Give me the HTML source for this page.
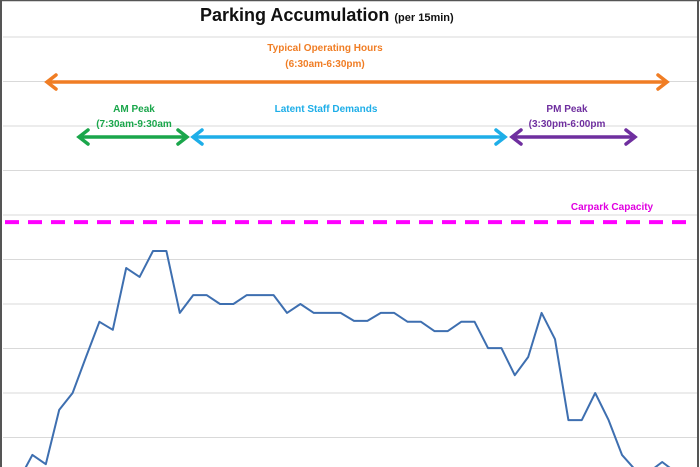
<!DOCTYPE html>
<html><head><meta charset="utf-8"><style>
body{margin:0;background:#fff;}
svg{display:block;font-family:"Liberation Sans",sans-serif;}
</style></head><body>
<svg width="700" height="467" viewBox="0 0 700 467">
<rect x="0" y="0" width="700" height="467" fill="#fff"/>
<g id="grid"></g>
<line x1="1" y1="0" x2="1" y2="467" stroke="#555" stroke-width="2"/>
<line x1="698" y1="0" x2="698" y2="467" stroke="#555" stroke-width="2"/>
<line x1="0" y1="0.5" x2="700" y2="0.5" stroke="#555" stroke-width="1.5"/>
<text x="200" y="21" font-size="18" font-weight="bold" fill="#111">Parking Accumulation <tspan font-size="11">(per 15min)</tspan></text>
<g id="annot"></g>
<line id="cap" x1="5" x2="695" stroke="#ff00ff" stroke-width="4" stroke-dasharray="14,9"/>
<text x="612" y="210" font-size="10" font-weight="bold" fill="#e000e0" text-anchor="middle">Carpark Capacity</text>
<path id="series" fill="none" stroke="#3e6fb0" stroke-width="2" stroke-linejoin="round"/>
</svg>
<script>
const values=[0.5,6.1,4,16.2,20,28.1,36,34.2,48.1,46.1,51.9,51.9,38,42,42,40,40,42,42,42,38,40,38,38,38,36.2,36.2,38,38,36,36,33.9,33.9,36,36,30.1,30.1,24,28.1,38,32.1,13.9,13.9,20,13.9,6.1,2.7,2.2,4.5,2.2];
const capacity=[58.4];
const gridValues=[10,20,30,40,50,60,70,80,90,100];
const x0=19,step=13.4;
function xs(i){return x0+step*i;}
function ys(v){return 482-v*4.45;}
const ns="http://www.w3.org/2000/svg";
const grid=document.getElementById('grid');
gridValues.forEach(g=>{const y=ys(g);const l=document.createElementNS(ns,'line');
l.setAttribute('x1',3);l.setAttribute('x2',697);l.setAttribute('y1',y);l.setAttribute('y2',y);
l.setAttribute('stroke','#d9d9d9');l.setAttribute('stroke-width','1');


grid.appendChild(l);});
const cap=document.getElementById('cap');cap.setAttribute('y1',ys(capacity[0]));cap.setAttribute('y2',ys(capacity[0]));
document.getElementById('series').setAttribute('d',values.map((v,i)=>(i?'L':'M')+xs(i).toFixed(1)+','+ys(v).toFixed(1)).join(' '));
const annot=document.getElementById('annot');
function arrow(x1,x2,y,c,name){const g=document.createElementNS(ns,'g');


g.innerHTML=`<line x1="${x1+2}" x2="${x2-2}" y1="${y}" y2="${y}" stroke="${c}" stroke-width="3.5"/>
<polyline points="${x1+10},${y-7} ${x1+1},${y} ${x1+10},${y+7}" fill="none" stroke="${c}" stroke-width="3.5" stroke-linecap="round"/>
<polyline points="${x2-10},${y-7} ${x2-1},${y} ${x2-10},${y+7}" fill="none" stroke="${c}" stroke-width="3.5" stroke-linecap="round"/>`;
annot.appendChild(g);}
function label(x,y,t,c,name){const e=document.createElementNS(ns,'text');
e.setAttribute('x',x);e.setAttribute('y',y);e.setAttribute('font-size','10');e.setAttribute('font-weight','bold');
e.setAttribute('fill',c);e.setAttribute('text-anchor','middle');e.textContent=t;


annot.appendChild(e);}
arrow(46,668,82,'#f07d24','operating-hours-arrow');
arrow(78,188,137,'#1aa64b','am-peak-arrow');
arrow(192,506,137,'#1eaee8','latent-staff-arrow');
arrow(511,636,137,'#6f2f9f','pm-peak-arrow');
label(325,51,'Typical Operating Hours','#f07d24','operating-hours-label');
label(325,67,'(6:30am-6:30pm)','#f07d24','operating-hours-times');
label(134,112,'AM Peak','#1aa64b','am-peak-label');
label(134,127,'(7:30am-9:30am','#1aa64b','am-peak-times');
label(326,112,'Latent Staff Demands','#1eaee8','latent-staff-label');
label(567,112,'PM Peak','#6f2f9f','pm-peak-label');
label(567,127,'(3:30pm-6:00pm','#6f2f9f','pm-peak-times');
</script>
</body></html>
